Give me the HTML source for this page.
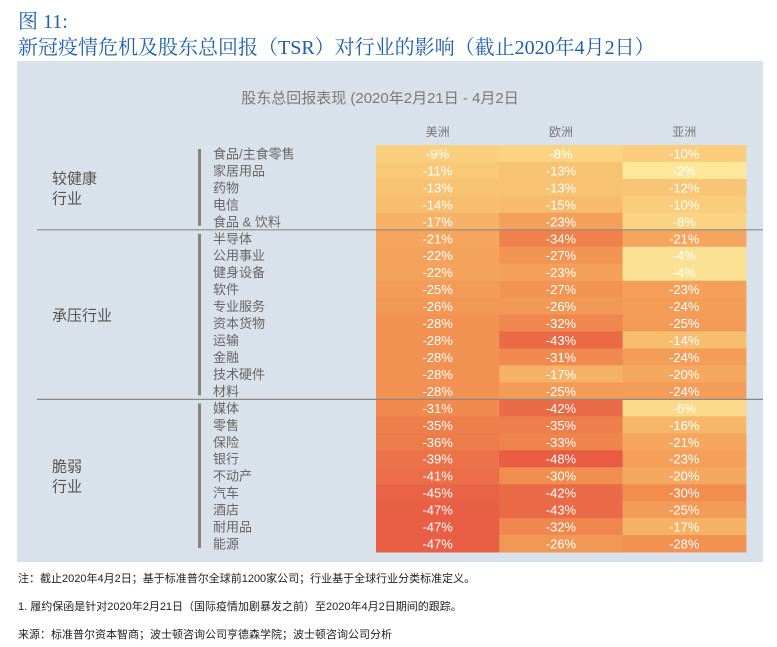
<!DOCTYPE html>
<html><head><meta charset="utf-8"><style>
body{margin:0;width:777px;height:647px;background:#fff;font-family:"Liberation Sans","Noto Sans CJK SC",sans-serif;position:relative;overflow:hidden}
.t{position:absolute;white-space:nowrap}
</style></head><body>
<div class="t" style="left:18px;top:5px;font-size:20px;color:#1f5fa8;font-family:'Liberation Serif','Noto Serif CJK SC',serif">图 11:</div>
<div class="t" style="left:18px;top:31px;font-size:20px;color:#1f5fa8;font-family:'Liberation Serif','Noto Serif CJK SC',serif">新冠疫情危机及股东总回报（TSR）对行业的影响（截止2020年4月2日）</div>
<div style="position:absolute;left:17px;top:61px;width:746px;height:501px;background:#d9e1ea"></div>
<svg id="chart" width="777" height="647" style="position:absolute;left:0;top:0"></svg>
<div class="t" style="left:18px;top:570px;font-size:11px;color:#222">注：截止2020年4月2日；基于标准普尔全球前1200家公司；行业基于全球行业分类标准定义。</div>
<div class="t" style="left:18px;top:598px;font-size:11px;color:#222">1. 履约保函是针对2020年2月21日（国际疫情加剧暴发之前）至2020年4月2日期间的跟踪。</div>
<div class="t" style="left:18px;top:626px;font-size:11px;color:#222">来源：标准普尔资本智商；波士顿咨询公司亨德森学院；波士顿咨询公司分析</div>
<script>
const regions=["美洲","欧洲","亚洲"];
const industries=["食品/主食零售","家居用品","药物","电信","食品 & 饮料","半导体","公用事业","健身设备","软件","专业服务","资本货物","运输","金融","技术硬件","材料","媒体","零售","保险","银行","不动产","汽车","酒店","耐用品","能源"];
const americas=[-9,-11,-13,-14,-17,-21,-22,-22,-25,-26,-28,-28,-28,-28,-28,-31,-35,-36,-39,-41,-45,-47,-47,-47];
const europe=[-8,-13,-13,-15,-23,-34,-27,-23,-27,-26,-32,-43,-31,-17,-25,-42,-35,-33,-48,-30,-42,-43,-32,-26];
const asia=[-10,-2,-12,-10,-8,-21,-4,-4,-23,-24,-25,-14,-24,-20,-24,-6,-16,-21,-23,-20,-30,-25,-17,-28];
const groupNames=["较健康\n行业","承压行业","脆弱\n行业"];
const groupSizes=[5,10,9];
const series=[americas,europe,asia];
const svg=document.getElementById('chart');const NS='http://www.w3.org/2000/svg';
function mk(t,a,txt){const e=document.createElementNS(NS,t);for(const k in a)e.setAttribute(k,a[k]);if(txt!=null)e.textContent=txt;svg.appendChild(e);return e;}
const x0=376,cw=123.3,y0=145,rh=(552-145)/industries.length;
const xPos=i=>x0+i*cw, yPos=j=>y0+j*rh;
const stops=[[-2,[252,231,155]],[-10,[249,205,123]],[-20,[245,168,96]],[-30,[240,141,79]],[-40,[235,112,72]],[-48,[232,92,68]]];
function col(v){if(v>=stops[0][0])return 'rgb('+stops[0][1]+')';for(let i=1;i<stops.length;i++){if(v>=stops[i][0]){const a=stops[i-1],b=stops[i],t=(v-a[0])/(b[0]-a[0]);return 'rgb('+a[1].map((c,k)=>Math.round(c+(b[1][k]-c)*t)).join(',')+')';}}return 'rgb('+stops[stops.length-1][1]+')';}
let e=mk('text',{x:380,y:103,'text-anchor':'middle','font-size':15,fill:'#7a7a7a'},'股东总回报表现 (2020年2月21日 - 4月2日');

regions.forEach((r,i)=>{const t=mk('text',{x:xPos(i)+cw/2,y:136,'text-anchor':'middle','font-size':12,fill:'#777'},r);
});
series.forEach((s,i)=>s.forEach((v,j)=>{
const r=mk('rect',{x:xPos(i),y:yPos(j),width:cw+0.5,height:rh+0.5,fill:col(v)});

const t=mk('text',{x:xPos(i)+cw/2,y:yPos(j)+rh/2+5,'text-anchor':'middle','font-size':13,fill:'#fff'},v+'%');
}));
industries.forEach((n,j)=>{const t=mk('text',{x:213,y:yPos(j)+rh/2+5,'font-size':13,fill:'#666'},n);
});
let start=0;
groupSizes.forEach((g,k)=>{
const top=yPos(start),bot=yPos(start+g);
const b=mk('rect',{x:198,y:top+4,width:3,height:bot-top-8,fill:'#8a8378'});

const lines=groupNames[k].split('\n');const mid=(top+bot)/2;
lines.forEach((l,i)=>{const t=mk('text',{x:52,y:mid+6+(i-(lines.length-1)/2)*20,'font-size':15,fill:'#555'},l);
});
if(k<groupSizes.length-1){const ln=mk('line',{x1:37,x2:763,y1:bot,y2:bot,stroke:'#8a8a8a','stroke-width':1.2});
}
start+=g;});
</script>
</body></html>
